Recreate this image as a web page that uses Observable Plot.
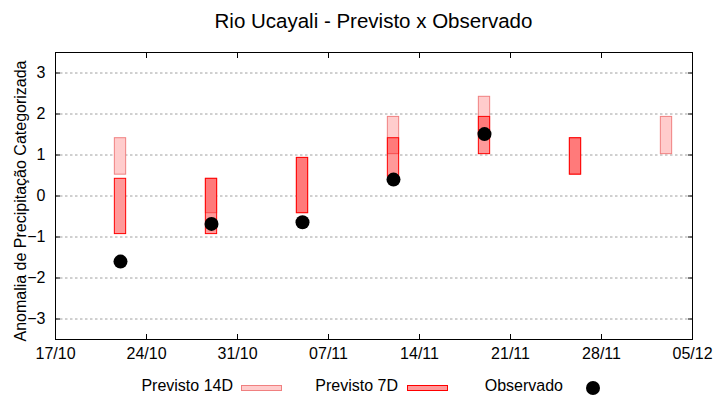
<!DOCTYPE html>
<html>
<head>
<meta charset="utf-8">
<script src="https://cdn.jsdelivr.net/npm/d3@7"></script>
<script src="https://cdn.jsdelivr.net/npm/@observablehq/plot@0.6"></script>
<style>
  html, body { margin: 0; padding: 0; background: white; }
  #wrap { position: relative; width: 720px; height: 400px; font-family: "Liberation Sans", Arial, sans-serif; color: #000; overflow: hidden; }
  #title { position: absolute; left: 55px; width: 637px; top: 11px; text-align: center; font-size: 20.5px; line-height: 20px; white-space: nowrap; }
  #chart { position: absolute; left: 0; top: 40px; }
  .lg-text { position: absolute; top: 378px; font-size: 16px; line-height: 16px; white-space: nowrap; text-align: right; }
  .lg-sw { position: absolute; top: 385px; height: 6px; box-sizing: border-box; }
  .lg-dot { position: absolute; width: 14px; height: 14px; border-radius: 50%; background: #000; }
</style>
</head>
<body>
<div id="wrap">
  <div id="title"></div>
  <div id="chart"></div>
  <div id="legend"></div>
</div>
<script>
// ---- Data ----
const titleText = "Rio Ucayali - Previsto x Observado";
const yLabel = "Anomalia de Precipitação Categorizada";
const seriesNames = ["Previsto 14D", "Previsto 7D", "Observado"];

const dates = ["2023-10-22", "2023-10-29", "2023-11-05", "2023-11-12", "2023-11-19", "2023-11-26", "2023-12-03"];
const prev14Min = [0.5, -0.44, -0.44, 1.0, 1.43, 0.5, 1.0];
const prev14Max = [1.43, 0.44, 0.95, 1.95, 2.44, 1.43, 1.95];
const prev7Min = [-0.95, -0.95, -0.44, 0.45, 1.0, 0.5, null];
const prev7Max = [0.44, 0.44, 0.95, 1.43, 1.95, 1.43, null];
const observed = [-1.6, -0.68, -0.64, 0.4, 1.51, null, null];

const xTickDates = ["2023-10-17", "2023-10-24", "2023-10-31", "2023-11-07", "2023-11-14", "2023-11-21", "2023-11-28", "2023-12-05"];
const yTicks = [-3, -2, -1, 0, 1, 2, 3];
const xDomain = ["2023-10-17", "2023-12-05"];
const yDomain = [-3.5, 3.5];

// ---- Build tables ----
const parse = d3.utcParse("%Y-%m-%d");
const fmt = d3.utcFormat("%d/%m");
const half = 12 * 3600 * 1000;
const rows14 = dates.map((d, i) => ({date: parse(d), lo: prev14Min[i], hi: prev14Max[i]}));
const rows7 = dates.map((d, i) => ({date: parse(d), lo: prev7Min[i], hi: prev7Max[i]})).filter(r => r.lo != null);
const rowsObs = dates.map((d, i) => ({date: parse(d), v: observed[i]})).filter(r => r.v != null);
const xTicks = xTickDates.map(parse);

const x1 = r => new Date(+r.date - half);
const x2 = r => new Date(+r.date + half);
const noText = () => "";

const chart = Plot.plot({
  width: 720,
  height: 330,
  marginTop: 12,
  marginBottom: 31,
  marginLeft: 55,
  marginRight: 28,
  style: {fontFamily: "Liberation Sans, Arial, sans-serif", fontSize: "16px", background: "white", color: "black", overflow: "visible"},
  x: {type: "utc", domain: xDomain.map(parse)},
  y: {domain: yDomain},
  marks: [
    Plot.gridY(yTicks, {stroke: "#a0a0a0", strokeOpacity: 1, strokeDasharray: "2.5,2.5"}),
    // white underlay to keep grid hidden behind semi-transparent 7D bars
    Plot.rect(rows7, {x1, x2, y1: "lo", y2: "hi", fill: "white", inset: 0.85}),
    Plot.rect(rows14, {x1, x2, y1: "lo", y2: "hi", fill: "#ffcccc", stroke: "#f08080", strokeWidth: 1, inset: 0.85}),
    Plot.rect(rows7, {x1, x2, y1: "lo", y2: "hi", fill: "#ff0000", fillOpacity: 0.4, stroke: "#ff0000", strokeWidth: 1, inset: 0.85}),
    Plot.dot(rowsObs, {x: "date", y: "v", r: 7, fill: "black"}),
    Plot.frame({stroke: "black", strokeWidth: 1}),
    // labels
    Plot.axisY(yTicks, {anchor: "left", tickSize: 0, tickPadding: 10, label: null}),
    Plot.axisX(xTicks, {anchor: "bottom", tickSize: 0, tickPadding: 8, tickFormat: fmt, label: null}),
    // inward ticks on all sides
    Plot.axisY(yTicks, {anchor: "left", tickSize: 5, dx: 5, tickFormat: noText, label: null}),
    Plot.axisY(yTicks, {anchor: "right", tickSize: 5, dx: -5, tickFormat: noText, label: null}),
    Plot.axisX(xTicks, {anchor: "bottom", tickSize: 5, dy: -5, tickFormat: noText, label: null}),
    Plot.axisX(xTicks, {anchor: "top", tickSize: 5, dy: 5, tickFormat: noText, label: null}),
    Plot.text([yLabel], {text: d => d, frameAnchor: "left", textAnchor: "middle", lineAnchor: "middle", rotate: -90, dx: -35, dy: 5, fontSize: 16, fill: "black"})
  ]
});
document.getElementById("chart").appendChild(chart);
document.getElementById("title").textContent = titleText;

// ---- Legend (HTML) ----
const lg = document.getElementById("legend");
function addText(txt, rightEdge) {
  const s = document.createElement("span");
  s.className = "lg-text";
  s.style.right = (720 - rightEdge) + "px";
  s.textContent = txt;
  lg.appendChild(s);
}
function addSwatch(left, width, fill, stroke) {
  const s = document.createElement("div");
  s.className = "lg-sw";
  s.style.left = left + "px";
  s.style.width = width + "px";
  s.style.background = fill;
  s.style.border = "1px solid " + stroke;
  lg.appendChild(s);
}
addText(seriesNames[0], 233);
addSwatch(241, 41, "#ffcccc", "#f08080");
addText(seriesNames[1], 398);
addSwatch(407, 41, "#ff9999", "#ff0000");
addText(seriesNames[2], 563);
const dot = document.createElement("div");
dot.className = "lg-dot";
dot.style.left = "586px";
dot.style.top = "381px";
lg.appendChild(dot);
</script>
</body>
</html>
